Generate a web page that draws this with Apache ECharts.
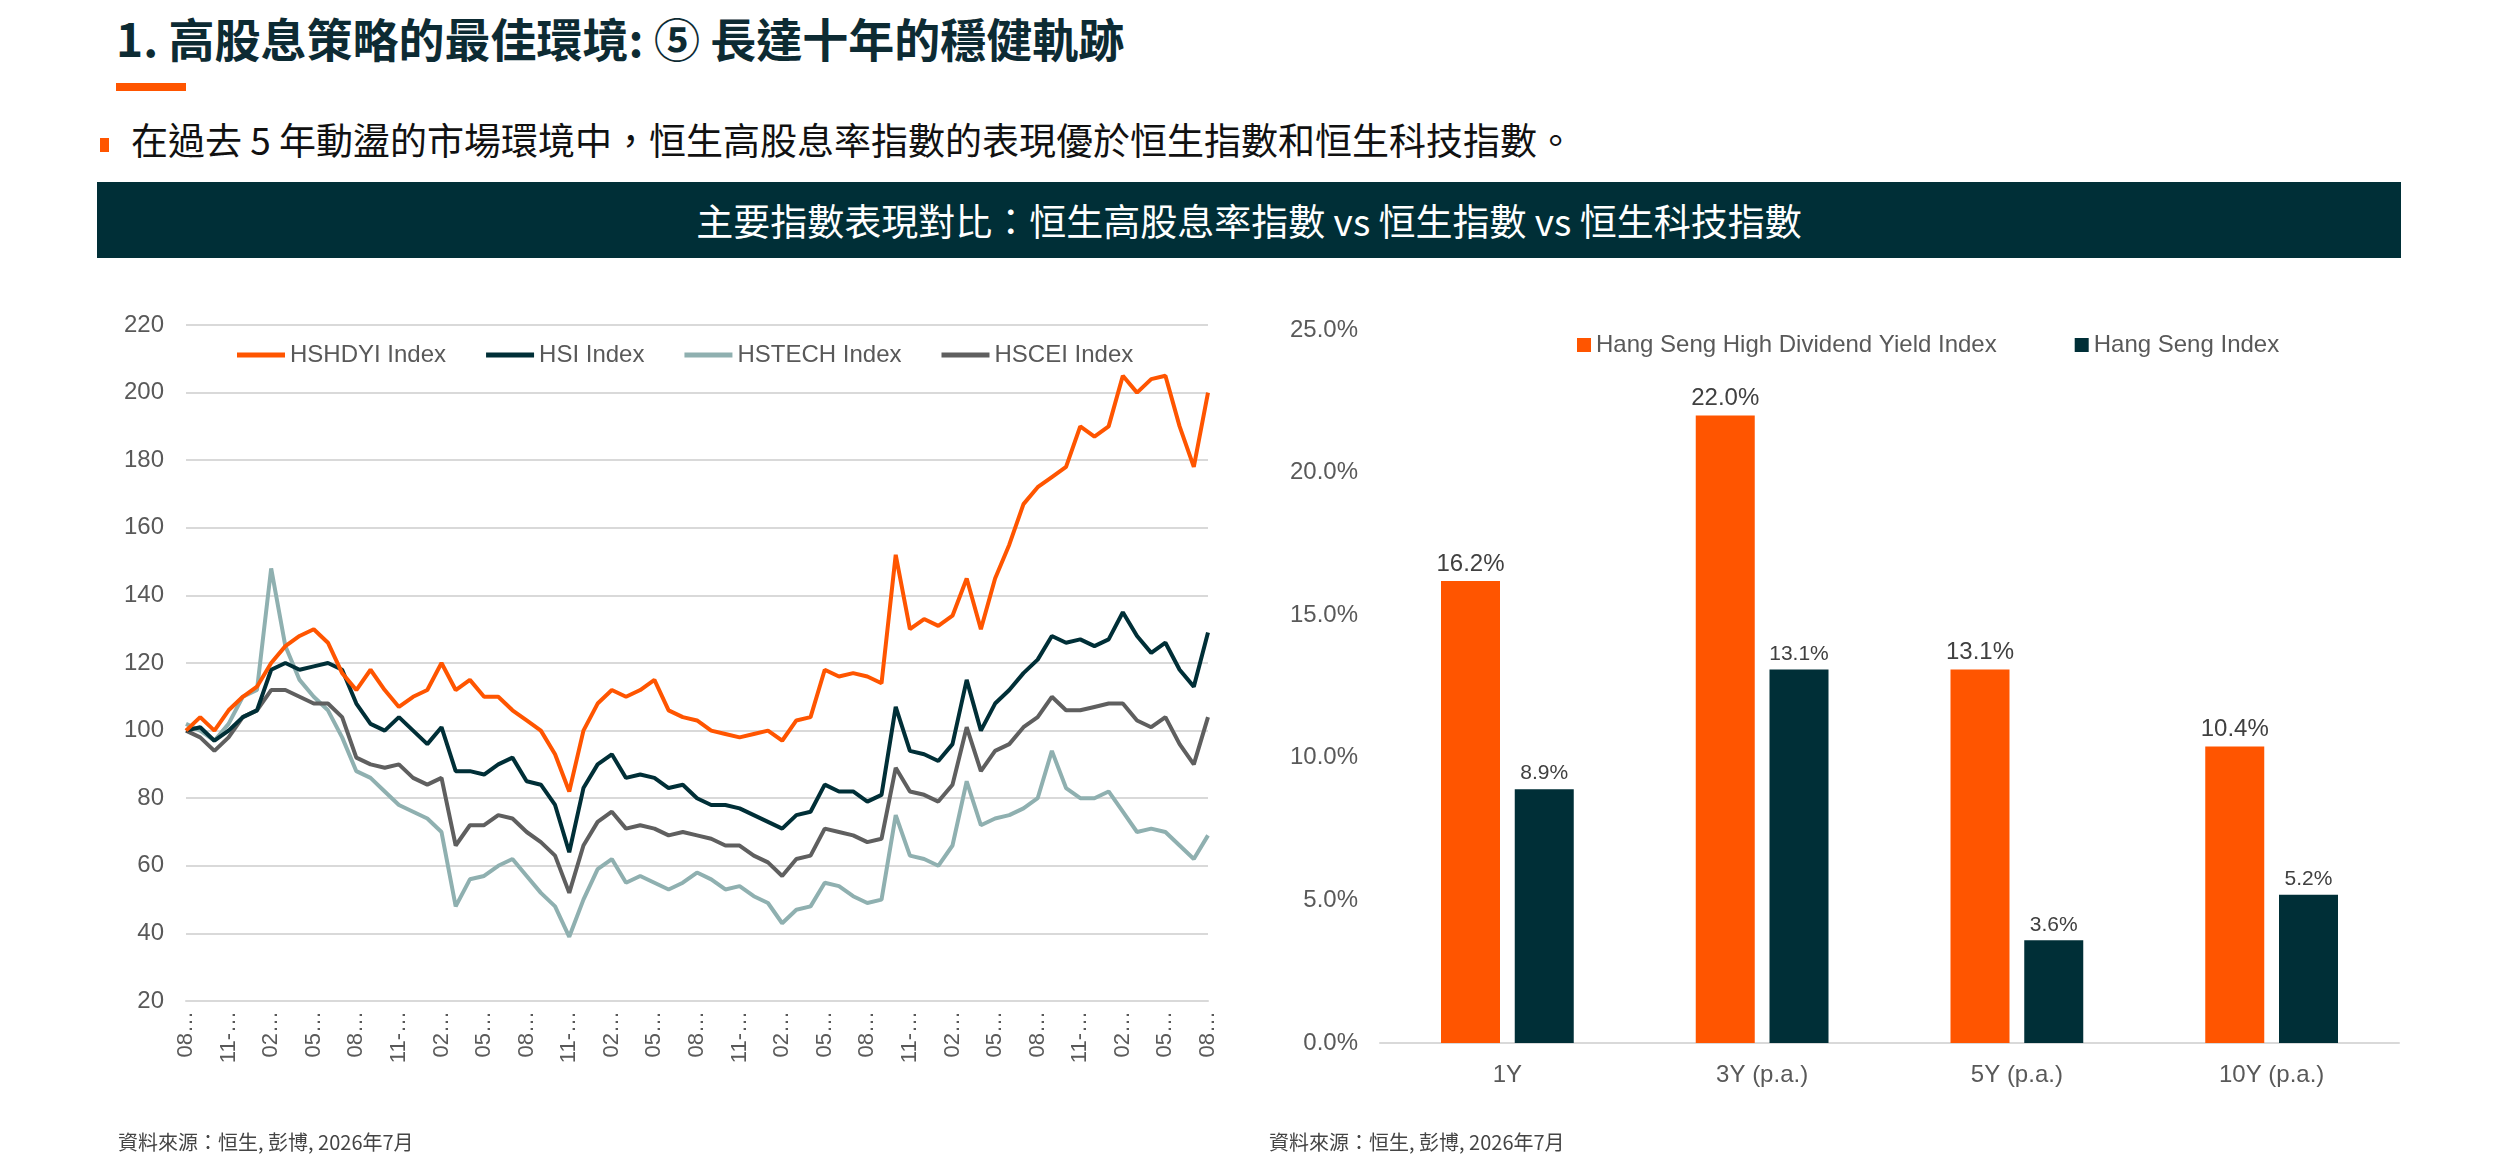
<!DOCTYPE html>
<html>
<head>
<meta charset="utf-8">
<script src="https://cdn.jsdelivr.net/npm/echarts@6/dist/echarts.min.js"></script>
<style>
  body{margin:0;width:2500px;height:1158px;background:#fff;font-family:"Noto Sans CJK TC","Noto Sans",sans-serif;position:relative;overflow:hidden}
  .title{position:absolute;left:116px;top:4px;font-size:46px;font-weight:bold;color:#0d2b33}
  .uline{position:absolute;left:116px;top:83px;width:70px;height:8px;background:#ff5500}
  .bullet{position:absolute;left:100px;top:112px;font-size:37px;color:#111}
  .bullet:before{content:"";display:inline-block;width:9px;height:14px;background:#ff5500;margin-right:22px;vertical-align:middle}
  .banner{position:absolute;left:97px;top:182px;width:2304px;height:76px;background:#002f37;color:#fff;font-size:37px;line-height:76px;text-align:center}
  .src{position:absolute;top:1127px;font-size:20px;color:#444}
  #c{position:absolute;left:0;top:0;width:2500px;height:1158px}
</style>
</head>
<body>
<div class="title">1. 高股息策略的最佳環境: ⑤ 長達十年的穩健軌跡</div>
<div class="uline"></div>
<div class="bullet">在過去 5 年動盪的市場環境中，恒生高股息率指數的表現優於恒生指數和恒生科技指數。</div>
<div class="banner">主要指數表現對比：恒生高股息率指數 vs 恒生指數 vs 恒生科技指數</div>
<div id="c"></div>
<div class="src" style="left:118px">資料來源：恒生, 彭博, 2026年7月</div>
<div class="src" style="left:1269px">資料來源：恒生, 彭博, 2026年7月</div>
<script>
// monthly points, Aug 2020 .. Aug 2026
const dates = [];
for (let i = 0; i < 73; i++) {
  const m = (7 + i) % 12 + 1, y = 2020 + Math.floor((7 + i) / 12);
  dates.push(String(m).padStart(2, '0') + '-' + y);
}
const hshdyi = [100,104,100,106,110,113,120,125,128,130,126,117,112,118,112,107,110,112,120,112,115,110,110,106,103,100,93,82,100,108,112,110,112,115,106,104,103,100,99,98,99,100,97,103,104,118,116,117,116,114,152,130,133,131,134,145,130,145,155,167,172,175,178,190,187,190,205,200,204,205,190,178,200];
const hsi = [100,101,97,100,104,106,118,120,118,119,120,118,108,102,100,104,100,96,101,88,88,87,90,92,85,84,78,64,83,90,93,86,87,86,83,84,80,78,78,77,75,73,71,75,76,84,82,82,79,81,107,94,93,91,96,115,100,108,112,117,121,128,126,127,125,127,135,128,123,126,118,113,129];
const hstech = [102,100,97,102,110,112,148,125,115,110,106,98,88,86,82,78,76,74,70,48,56,57,60,62,57,52,48,39,50,59,62,55,57,55,53,55,58,56,53,54,51,49,43,47,48,55,54,51,49,50,75,63,62,60,66,85,72,74,75,77,80,94,83,80,80,82,76,70,71,70,66,62,69];
const hscei = [100,98,94,98,104,106,112,112,110,108,108,104,92,90,89,90,86,84,86,66,72,72,75,74,70,67,63,52,66,73,76,71,72,71,69,70,69,68,66,66,63,61,57,62,63,71,70,69,67,68,89,82,81,79,84,101,88,94,96,101,104,110,106,106,107,108,108,103,101,104,96,90,104];

const periods = ['1Y','3Y (p.a.)','5Y (p.a.)','10Y (p.a.)'];
const hdyRet = [16.2,22.0,13.1,10.4];
const hsiRet = [8.9,13.1,3.6,5.2];

const orange = '#ff5500', dark = '#002f37', teal = '#8fb0b0', gray = '#5f5f5f';
const font = 'Arial, "Liberation Sans", sans-serif';
const line = (name, data, color) => ({
  name, type: 'line', data, xAxisIndex: 0, yAxisIndex: 0, showSymbol: false,
  lineStyle: {color, width: 4}, itemStyle: {color}
});

const chart = echarts.init(document.getElementById('c'));
chart.setOption({
  animation: false,
  textStyle: {fontFamily: font},
  grid: [
    {left: 186, right: 1292, top: 325, bottom: 157},
    {left: 1380, right: 101, top: 330, bottom: 115}
  ],
  legend: [
    {data: ['HSHDYI Index','HSI Index','HSTECH Index','HSCEI Index'], left: 232, top: 338,
     itemWidth: 48, itemHeight: 5, itemGap: 40, icon: 'rect',
     textStyle: {fontSize: 24, color: '#595959', fontFamily: font}},
    {data: ['Hang Seng High Dividend Yield Index','Hang Seng Index'], left: 1572, top: 328,
     itemWidth: 14, itemHeight: 14, itemGap: 78, icon: 'rect',
     textStyle: {fontSize: 24, color: '#595959', fontFamily: font}}
  ],
  xAxis: [
    {type: 'category', gridIndex: 0, data: dates, boundaryGap: false,
     axisLine: {lineStyle: {color: '#d9d9d9', width: 2}}, axisTick: {show: false},
     axisLabel: {interval: 2, rotate: 90, fontSize: 22, color: '#595959', width: 56,
                 overflow: 'truncate', ellipsis: '…', margin: 10}},
    {type: 'category', gridIndex: 1, data: periods,
     axisLine: {lineStyle: {color: '#d9d9d9', width: 2}}, axisTick: {show: false},
     axisLabel: {fontSize: 24, color: '#595959', margin: 20}}
  ],
  yAxis: [
    {type: 'value', gridIndex: 0, min: 20, max: 220, interval: 20,
     axisLabel: {fontSize: 24, color: '#595959', margin: 22},
     splitLine: {lineStyle: {color: '#d9d9d9', width: 2}}},
    {type: 'value', gridIndex: 1, min: 0, max: 25, interval: 5,
     axisLabel: {fontSize: 24, color: '#595959', margin: 22, formatter: v => v.toFixed(1) + '%'},
     splitLine: {show: false}}
  ],
  series: [
    line('HSTECH Index', hstech, teal),
    line('HSCEI Index', hscei, gray),
    line('HSI Index', hsi, dark),
    line('HSHDYI Index', hshdyi, orange),
    {name: 'Hang Seng High Dividend Yield Index', type: 'bar', xAxisIndex: 1, yAxisIndex: 1,
     data: hdyRet, barWidth: 59, barGap: '25%', itemStyle: {color: orange},
     label: {show: true, position: 'top', fontSize: 24, color: '#404040', formatter: p => p.value.toFixed(1) + '%'}},
    {name: 'Hang Seng Index', type: 'bar', xAxisIndex: 1, yAxisIndex: 1,
     data: hsiRet, barWidth: 59, itemStyle: {color: dark},
     label: {show: true, position: 'top', fontSize: 21, color: '#404040', formatter: p => p.value.toFixed(1) + '%'}}
  ]
});
</script>
</body>
</html>
